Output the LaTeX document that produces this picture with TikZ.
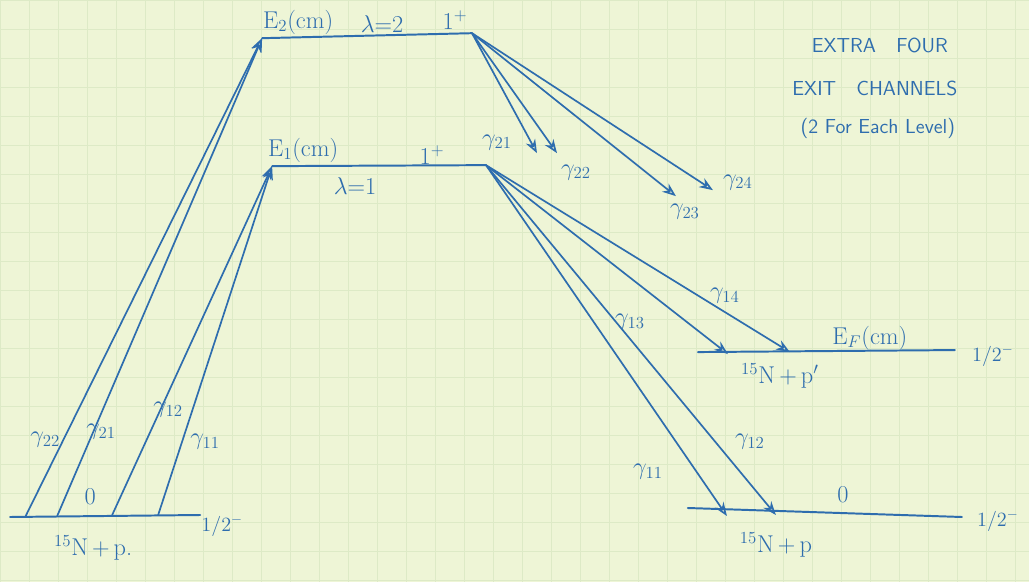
\documentclass[tikz,border=0pt]{standalone}
\usepackage{amsmath}
\usepackage{tikz}
\usetikzlibrary{arrows.meta,positioning}
\definecolor{ink}{HTML}{2E6DAE}
\definecolor{paper}{HTML}{EEF5D6}
\definecolor{gridline}{HTML}{DDEAC6}
\newcommand{\half}{1/2$^{-}$}

\begin{document}
\begin{tikzpicture}[x=0.025cm, y=-0.025cm,
  lvl/.style={ink, line width=1.4pt, line cap=round},
  tr/.style={-{Stealth[length=3.4mm, width=2.6mm, open]}, ink, line width=1.2pt},
  lab/.style={text=ink, font=\LARGE},
  spin/.style={text=ink, font=\Large},
  note/.style={text=ink, font=\Large\sffamily}
]
  % paper
  \fill[paper] (0,0) rectangle (1029,582);
  \draw[gridline, line width=0.3pt, step=0.725cm] (0,0) grid (1029,582);
  \useasboundingbox (0,0) rectangle (1029,582);

  % levels
  \coordinate (g0l) at (10,517);  \coordinate (g0r) at (200,515);
  \coordinate (e2l) at (262,38);  \coordinate (e2r) at (472,33);
  \coordinate (e1l) at (272,166); \coordinate (e1r) at (486,165);
  \coordinate (efl) at (698,352); \coordinate (efr) at (955,350);
  \coordinate (g1l) at (688,508); \coordinate (g1r) at (962,517);

  \draw[lvl] (g0l) -- (g0r);
  \draw[lvl] (e2l) -- (e2r);
  \draw[lvl] (e1l) -- (e1r);
  \draw[lvl] (efl) -- (efr);
  \draw[lvl] (g1l) -- (g1r);

  % entrance channels
  \coordinate (s22) at (25,517);
  \coordinate (s21) at (57,516);
  \coordinate (s12) at (112,515);
  \coordinate (s11) at (158,515);
  \draw[tr] (s22) -- (e2l);
  \draw[tr] (s21) -- (e2l);
  \draw[tr] (s12) -- (e1l);
  \draw[tr] (s11) -- (e1l);

  % exit channels
  \coordinate (a21) at (537,153);
  \coordinate (a22) at (557,153);
  \coordinate (a23) at (676,196);
  \coordinate (a24) at (713,190);
  \coordinate (a13) at (728,354);
  \coordinate (a14) at (790,352);
  \coordinate (a11) at (727,516);
  \coordinate (a12) at (776,515);
  \foreach \t in {a21,a22,a23,a24}
    \draw[tr] (e2r) -- (\t);
  \foreach \t in {a13,a14,a11,a12}
    \draw[tr] (e1r) -- (\t);

  % level labels
  \node[lab] (e2name) at (298,22) {E$_2$(cm)};
  \node[lab] (e2lam)  at (382,24) {$\lambda$=2};
  \node[lab] (e2jp)   at (455,20) {1$^+$};
  \node[lab] (e1name) at (303,150) {E$_1$(cm)};
  \node[lab] (e1jp)   at (432,155) {1$^+$};
  \node[lab] (e1lam)  at (355,186) {$\lambda$=1};
  \node[lab] (efname) at (870,338) {E$_F$(cm)};
  \node[spin] (efjp)  at (993,356) {\half};
  \node[lab] (efch)   at (780,376) {$^{15}$N\,+\,p$'$};
  \node[lab] (g1e)    at (843,495) {0};
  \node[spin] (g1jp)  at (998,521) {\half};
  \node[lab] (g1ch)   at (776,545) {$^{15}$N\,+\,p};
  \node[lab] (g0e)    at (90,497) {0};
  \node[spin] (g0jp)  at (222,526) {\half};
  \node[lab] (g0ch)   at (93,548) {$^{15}$N\,+\,p.};

  % gamma labels
  \node[lab] (l22) at (45,440)  {$\gamma_{22}$};
  \node[lab] (l21) at (101,432) {$\gamma_{21}$};
  \node[lab] (l12) at (168,410) {$\gamma_{12}$};
  \node[lab] (l11) at (205,442) {$\gamma_{11}$};
  \node[lab] (r21) at (497,142) {$\gamma_{21}$};
  \node[lab] (r22) at (576,172) {$\gamma_{22}$};
  \node[lab] (r23) at (685,212) {$\gamma_{23}$};
  \node[lab] (r24) at (738,182) {$\gamma_{24}$};
  \node[lab] (r13) at (630,322) {$\gamma_{13}$};
  \node[lab] (r14) at (725,296) {$\gamma_{14}$};
  \node[lab] (r11) at (648,472) {$\gamma_{11}$};
  \node[lab] (r12) at (750,442) {$\gamma_{12}$};

  % note
  \node[note] (n1) at (880,45)  {EXTRA\quad FOUR};
  \node[note] (n2) at (875,88)  {EXIT\quad CHANNELS};
  \node[note] (n3) at (878,128) {(2 For Each Level)};
\end{tikzpicture}
\end{document}
